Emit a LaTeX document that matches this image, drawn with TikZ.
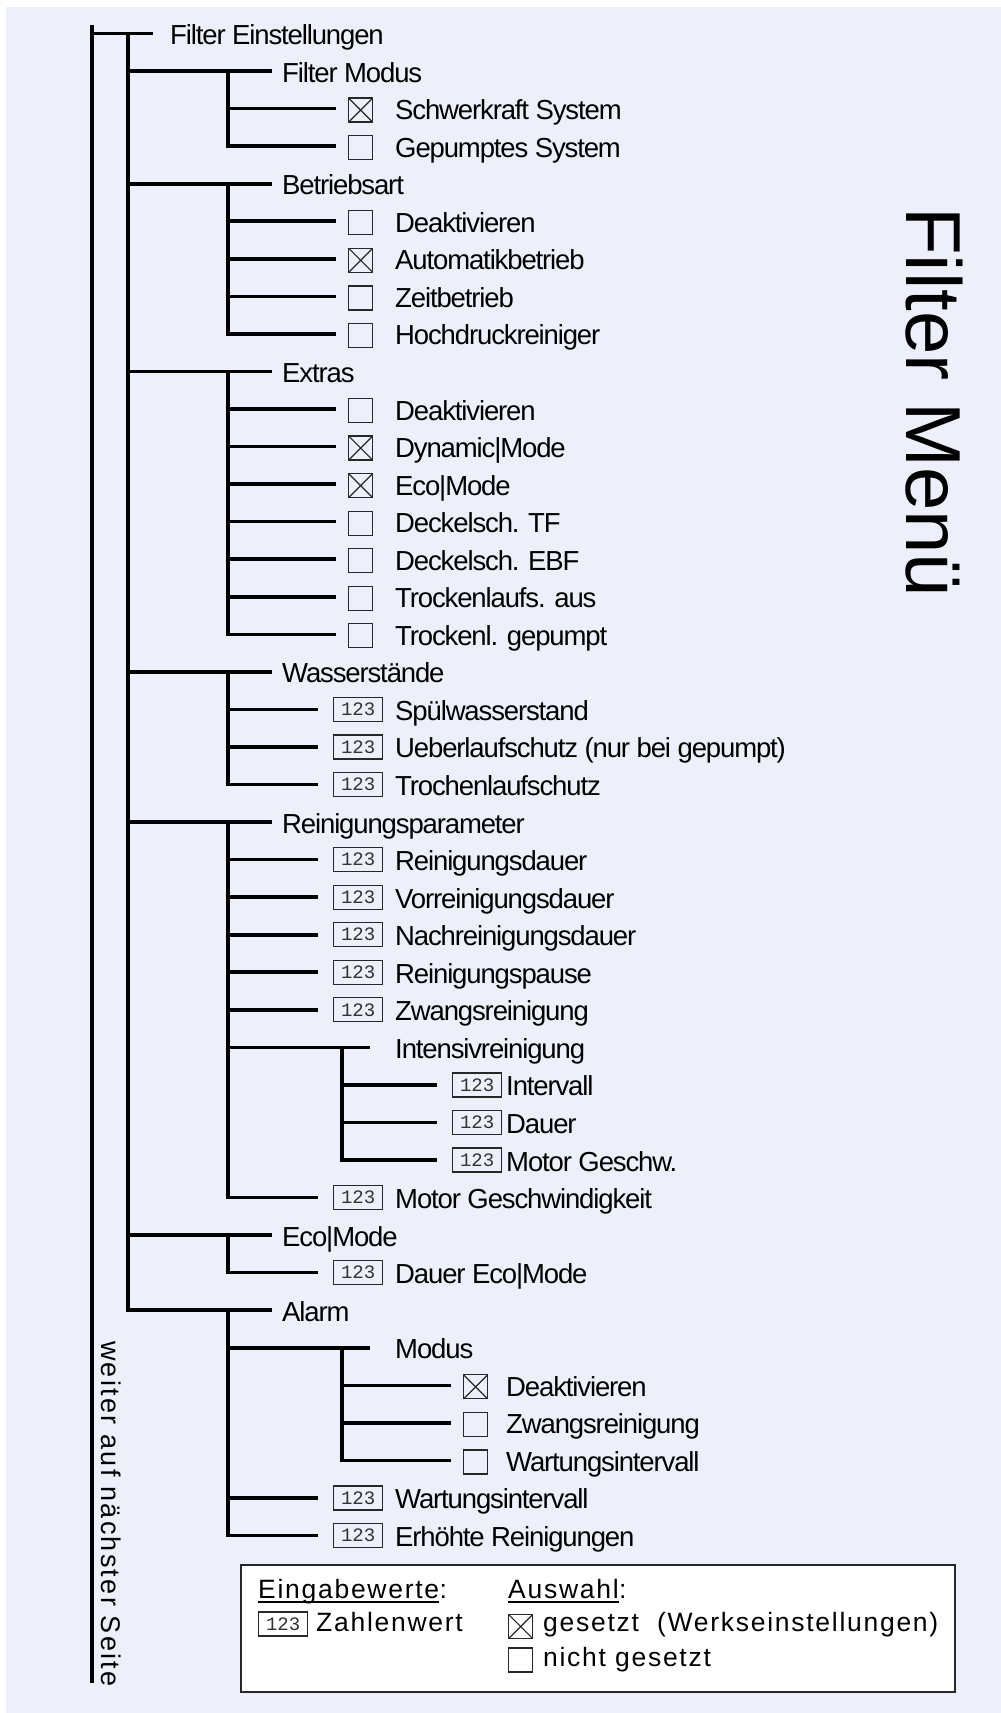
\documentclass[tikz,border=0pt]{standalone}
\usepackage{fontspec}
\setmainfont{Liberation Sans}
\newfontfamily\treefont{Liberation Sans}[LetterSpace=-4.1]
\newfontfamily\widefont{Liberation Sans}[LetterSpace=6.5]
\newfontfamily\sidefont{Liberation Sans}[LetterSpace=8.5]
\newfontfamily\numfont{Liberation Mono}
\definecolor{pagebg}{RGB}{237,240,250}
\definecolor{boxline}{RGB}{40,40,40}
\definecolor{numgray}{RGB}{50,50,50}

% vertical position of a menu row
\newcommand\rowof[1]{33.5+37.55*#1}

\tikzset{
  branch/.style={line width=3.6pt, line cap=rect},
  lbl/.style={anchor=base west, inner sep=0pt, font=\treefont\fontsize{27.5pt}{27.5pt}\selectfont},
  legtxt/.style={anchor=base west, inner sep=0pt, font=\widefont\fontsize{26.5pt}{26.5pt}\selectfont},
  cbox/.style={draw=boxline, line width=1.3pt, minimum width=24pt, minimum height=24pt, inner sep=0pt},
  cboxx/.style={cbox, path picture={
      \draw[boxline, line width=1.2pt]
        (path picture bounding box.north west) -- (path picture bounding box.south east)
        (path picture bounding box.north east) -- (path picture bounding box.south west);}},
  numbox/.style={draw=boxline, line width=1.3pt, minimum width=49pt, minimum height=24pt,
      inner sep=0pt, text=numgray, font=\numfont\fontsize{19pt}{19pt}\selectfont},
}

% first-level heading hanging off the main bus
\newcommand\tkhead[3]{%
  \coordinate (#1-j) at (128,{\rowof{#2}});
  \coordinate (#1-k) at (228,{\rowof{#2}});
  \node[lbl] (#1) at (282,{\rowof{#2}+11}) {#3};
  \draw[branch, line cap=butt, shorten >=10pt] (#1-j) -- (#1-j -| #1.west);
}
% second-level heading with its own sub-bus
\newcommand\tksub[3]{%
  \coordinate (#1-j) at (228,{\rowof{#2}});
  \coordinate (#1-k) at (342,{\rowof{#2}});
  \node[lbl] (#1) at (395,{\rowof{#2}+11}) {#3};
  \draw[branch, line cap=butt, shorten >=25pt] (#1-j) -- (#1-j -| #1.west);
}
% selectable option: name, row, bus x, box x, text x, box style, text
\newcommand\tkchk[7]{%
  \coordinate (#1-j) at (#3,{\rowof{#2}});
  \node[#6, anchor=west] (#1-b) at (#4,{\rowof{#2}+1.5}) {};
  \node[lbl] (#1) at (#5,{\rowof{#2}+11}) {#7};
  \draw[branch, line cap=butt, shorten >=12pt] (#1-j) -- (#1-j -| #1-b.west);
}
% numeric entry: name, row, bus x, box x, text x, text
\newcommand\tknum[6]{%
  \coordinate (#1-j) at (#3,{\rowof{#2}});
  \node[numbox, anchor=west] (#1-b) at (#4,{\rowof{#2}}) {123};
  \node[lbl] (#1) at (#5,{\rowof{#2}+11}) {#6};
  \draw[branch, line cap=butt, shorten >=15.5pt] (#1-j) -- (#1-j -| #1-b.west);
}
\newcommand\chkii[4]{\tkchk{#1}{#2}{228}{348}{395}{#3}{#4}}
\newcommand\chkiii[4]{\tkchk{#1}{#2}{342}{463}{506}{#3}{#4}}
\newcommand\numii[3]{\tknum{#1}{#2}{228}{333}{395}{#3}}
\newcommand\numiii[3]{\tknum{#1}{#2}{342}{452}{506}{#3}}

\begin{document}
\begin{tikzpicture}[x=1pt, y=-1pt]
\useasboundingbox (0,0) rectangle (1001,1713);
\fill[white] (0,0) rectangle (1001,1713);
\fill[pagebg] (6,7) rectangle (1001,1713);

% main bus and root entry
\coordinate (top) at (92,25);
\coordinate (bottom) at (92,1683);
\draw[branch, line cap=butt] (top) -- (bottom);
\coordinate (root-j) at (92,{\rowof{0}});
\coordinate (root-k) at (128,{\rowof{0}});
\node[lbl] (root) at (170,{\rowof{0}+11}) {Filter Einstellungen};
\draw[branch, line cap=butt, shorten >=17pt] (root-j) -- (root-j -| root.west);

% Filter Modus
\tkhead{fm}{1}{Filter Modus}
\chkii{fm1}{2}{cboxx}{Schwerkraft System}
\chkii{fm2}{3}{cbox}{Gepumptes System}
\draw[branch] (fm-k) -- (fm2-j);

% Betriebsart
\tkhead{ba}{4}{Betriebsart}
\chkii{ba1}{5}{cbox}{Deaktivieren}
\chkii{ba2}{6}{cboxx}{Automatikbetrieb}
\chkii{ba3}{7}{cbox}{Zeitbetrieb}
\chkii{ba4}{8}{cbox}{Hochdruckreiniger}
\draw[branch] (ba-k) -- (ba4-j);

% Extras
\tkhead{ex}{9}{Extras}
\chkii{ex1}{10}{cbox}{Deaktivieren}
\chkii{ex2}{11}{cboxx}{Dynamic|Mode}
\chkii{ex3}{12}{cboxx}{Eco|Mode}
\chkii{ex4}{13}{cbox}{Deckelsch. TF}
\chkii{ex5}{14}{cbox}{Deckelsch. EBF}
\chkii{ex6}{15}{cbox}{Trockenlaufs. aus}
\chkii{ex7}{16}{cbox}{Trockenl. gepumpt}
\draw[branch] (ex-k) -- (ex7-j);

% Wasserstaende
\tkhead{ws}{17}{Wasserstände}
\numii{ws1}{18}{Spülwasserstand}
\numii{ws2}{19}{Ueberlaufschutz (nur bei gepumpt)}
\numii{ws3}{20}{Trochenlaufschutz}
\draw[branch] (ws-k) -- (ws3-j);

% Reinigungsparameter
\tkhead{rp}{21}{Reinigungsparameter}
\numii{rp1}{22}{Reinigungsdauer}
\numii{rp2}{23}{Vorreinigungsdauer}
\numii{rp3}{24}{Nachreinigungsdauer}
\numii{rp4}{25}{Reinigungspause}
\numii{rp5}{26}{Zwangsreinigung}
\tksub{ir}{27}{Intensivreinigung}
\numiii{ir1}{28}{Intervall}
\numiii{ir2}{29}{Dauer}
\numiii{ir3}{30}{Motor Geschw.}
\draw[branch] (ir-k) -- (ir3-j);
\numii{rp6}{31}{Motor Geschwindigkeit}
\draw[branch] (rp-k) -- (rp6-j);

% Eco|Mode
\tkhead{em}{32}{Eco|Mode}
\numii{em1}{33}{Dauer Eco|Mode}
\draw[branch] (em-k) -- (em1-j);

% Alarm
\tkhead{al}{34}{Alarm}
\tksub{am}{35}{Modus}
\chkiii{am1}{36}{cboxx}{Deaktivieren}
\chkiii{am2}{37}{cbox}{Zwangsreinigung}
\chkiii{am3}{38}{cbox}{Wartungsintervall}
\draw[branch] (am-k) -- (am3-j);
\numii{al1}{39}{Wartungsintervall}
\numii{al2}{40}{Erhöhte Reinigungen}
\draw[branch] (al-k) -- (al2-j);

% first-level bus
\draw[branch] (root-k) -- (al-j);

% side captions
\node[anchor=base west, inner sep=0pt, rotate=-90,
      font=\sidefont\fontsize{27pt}{27pt}\selectfont] (cont) at (101,1341) {weiter auf nächster Seite};
\node[anchor=base west, inner sep=0pt, rotate=-90,
      font=\fontsize{78pt}{78pt}\selectfont] (title) at (906,207) {Filter Menü};

% legend
\node[draw=boxline, fill=white, line width=1.5pt, minimum width=714pt, minimum height=127pt,
      inner sep=0pt, anchor=north west] (legend) at (240,1564) {};
\node[legtxt] (eg) at (258,1598) {Eingabewerte};
\node[legtxt] (egc) at (eg.base east) {:};
\draw[line width=2pt] ([yshift=-3.5pt]eg.base west) -- ([yshift=-3.5pt]eg.base east);
\node[legtxt] (aw) at (508,1598) {Auswahl};
\node[legtxt] (awc) at (aw.base east) {:};
\draw[line width=2pt] ([yshift=-3.5pt]aw.base west) -- ([yshift=-3.5pt]aw.base east);
\node[numbox, anchor=west] (lnum) at (258,1624) {123};
\node[legtxt] (lzw) at (316,1631) {Zahlenwert};
\node[cboxx, anchor=west] (lx) at (508,1626.5) {};
\node[legtxt] (lxt) at (543,1631) {gesetzt\ \ (Werkseinstellungen)};
\node[cbox, anchor=west] (lo) at (508,1660) {};
\node[legtxt] (lot) at (543,1666) {nicht gesetzt};
\end{tikzpicture}
\end{document}
